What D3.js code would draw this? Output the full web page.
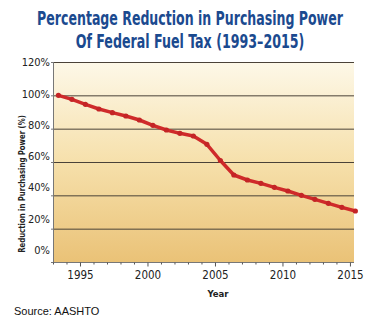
<!DOCTYPE html>
<html>
<head>
<meta charset="utf-8">
<script src="https://cdn.jsdelivr.net/npm/d3@7"></script>
<style>
  body { margin: 0; background: #fff; }
  svg { display: block; }
</style>
</head>
<body>
<div id="chart"></div>
<script>
// Chart size
var width = 370;
var height = 328;

// Purchasing power of the federal fuel tax, % of 1993 level
var years = [1993, 1994, 1995, 1996, 1997, 1998, 1999, 2000, 2001, 2002, 2003, 2004,
             2005, 2006, 2007, 2008, 2009, 2010, 2011, 2012, 2013, 2014, 2015];
var power = [100, 97.6, 94.6, 91.8, 89.6, 87.6, 85.2, 82.0, 79.2, 77.2, 75.6, 70.6,
             60.9, 52.2, 49.2, 47.2, 44.8, 42.6, 40.0, 37.6, 35.2, 32.8, 30.6];

var yTicks = [0, 20, 40, 60, 80, 100, 120];
var xTicks = [1995, 2000, 2005, 2010, 2015];
var titleLines = ["Percentage Reduction in Purchasing Power", "Of Federal Fuel Tax (1993\u20132015)"];

var data = years.map(function(y, i) { return { year: y, value: power[i] }; });

// Plot area
var plotL = 53, plotR = 354, plotT = 62, plotB = 262;
var narrow = "'Liberation Sans Narrow', 'DejaVu Sans Condensed', sans-serif";

var svg = d3.select("#chart")
            .append("svg")
            .attr("width", width)
            .attr("height", height);

// Squeeze a text horizontally (or along its run) to a given width
function condense(sel, w) {
  var natural = sel.node().getComputedTextLength();
  return Math.min(1, w / natural);
}

// Scales
var x = d3.scaleLinear().domain([1993, 2015.3]).range([plotL, plotR]);
var y = d3.scaleLinear().domain([0, 120]).range([plotB, plotT]);
// tick labels sit a little tighter than the gridlines
var yLabel = d3.scaleLinear().domain([0, 120]).range([250, 62.5]);

// Background gradient
var grad = svg.append("defs").append("linearGradient")
              .attr("id", "bg")
              .attr("x1", 0).attr("y1", 0).attr("x2", 0).attr("y2", 1);
grad.append("stop").attr("offset", "0%").attr("stop-color", "#fdf8e8");
grad.append("stop").attr("offset", "50%").attr("stop-color", "#f6e0ab");
grad.append("stop").attr("offset", "100%").attr("stop-color", "#eac277");

svg.append("rect")
   .attr("x", plotL).attr("y", plotT)
   .attr("width", plotR - plotL).attr("height", plotB - plotT)
   .attr("fill", "url(#bg)");

// Gridlines
svg.selectAll(".grid")
   .data(yTicks.filter(function(d) { return d > 0; }))
   .enter()
   .append("line")
   .attr("class", "grid")
   .attr("x1", plotL).attr("x2", plotR)
   .attr("y1", function(d) { return y(d) + 0.5; })
   .attr("y2", function(d) { return y(d) + 0.5; })
   .attr("stroke", "#4a4238")
   .attr("stroke-width", 1);

// Y axis line and small ticks
svg.append("line")
   .attr("x1", plotL + 0.5).attr("x2", plotL + 0.5)
   .attr("y1", plotT).attr("y2", plotB)
   .attr("stroke", "#777");
svg.selectAll(".ytick")
   .data(yTicks)
   .enter()
   .append("line")
   .attr("class", "ytick")
   .attr("x1", plotL - 2).attr("x2", plotL)
   .attr("y1", function(d) { return y(d) + 0.5; })
   .attr("y2", function(d) { return y(d) + 0.5; })
   .attr("stroke", "#777");

svg.selectAll(".ylab")
   .data(yTicks)
   .enter()
   .append("text")
   .attr("class", "ylab")
   .attr("x", plotL - 3)
   .attr("y", function(d) { return yLabel(d); })
   .attr("dy", "0.35em")
   .attr("text-anchor", "end")
   .style("font-family", narrow)
   .style("font-size", "11px")
   .style("fill", "#222")
   .text(function(d) { return d + "%"; });

// X axis
var xAxis = d3.axisBottom(x)
              .tickValues(d3.range(1993, 2016))
              .tickSize(3)
              .tickFormat(function(d) { return xTicks.indexOf(d) >= 0 ? d : ""; });

var gx = svg.append("g")
            .attr("transform", "translate(0," + (plotB + 0.5) + ")")
            .call(xAxis);
gx.select(".domain").attr("stroke", "#777").attr("d", "M" + plotL + ",0H" + plotR);
gx.selectAll(".tick line").attr("stroke", "#555")
  .attr("y2", function(d) { return xTicks.indexOf(d) >= 0 ? 4 : 2; });
gx.selectAll(".tick text")
  .attr("y", 8)
  .style("font-family", narrow)
  .style("font-size", "11.5px")
  .style("fill", "#222");

// Line
var line = d3.line()
             .x(function(d) { return x(d.year + 0.4); })
             .y(function(d) { return y(d.value); });

svg.append("path")
   .datum(data)
   .attr("d", line)
   .attr("fill", "none")
   .attr("stroke", "#cf2a2a")
   .attr("stroke-width", 3.5)
   .attr("stroke-linejoin", "round");

svg.selectAll(".pt")
   .data(data)
   .enter()
   .append("circle")
   .attr("class", "pt")
   .attr("cx", function(d) { return x(d.year + 0.4); })
   .attr("cy", function(d) { return y(d.value); })
   .attr("r", 2.6)
   .attr("fill", "#c42426");

// Titles, squeezed to a condensed width
var titleWidths = [306, 229];
titleLines.forEach(function(t, i) {
  var g = svg.append("g");
  var txt = g.append("text")
             .attr("text-anchor", "middle")
             .style("font-family", narrow)
             .style("font-weight", "bold")
             .style("font-size", "20px")
             .style("fill", "#1b4a8f")
             .text(t);
  var k = condense(txt, titleWidths[i]);
  g.attr("transform", "translate(190," + (25 + i * 23) + ") scale(" + k + ",1)");
});

// Axis titles
var yTitle = svg.append("g");
var yTxt = yTitle.append("text")
                 .attr("text-anchor", "middle")
                 .style("font-family", narrow)
                 .style("font-weight", "bold")
                 .style("font-size", "9.5px")
                 .style("fill", "#222")
                 .text("Reduction in Purchasing Power  (%)");
var ky = condense(yTxt, 138);
yTitle.attr("transform", "translate(25,184) rotate(-90) scale(" + ky + ",1)");

svg.append("text")
   .attr("x", 218)
   .attr("y", 297)
   .attr("text-anchor", "middle")
   .style("font-family", narrow)
   .style("font-weight", "bold")
   .style("font-size", "9.5px")
   .style("fill", "#222")
   .text("Year");

// Source note
svg.append("text")
   .attr("x", 14)
   .attr("y", 315)
   .style("font-family", "'Liberation Sans', Arial, sans-serif")
   .style("font-size", "11px")
   .style("fill", "#111")
   .text("Source: AASHTO");
</script>
</body>
</html>
